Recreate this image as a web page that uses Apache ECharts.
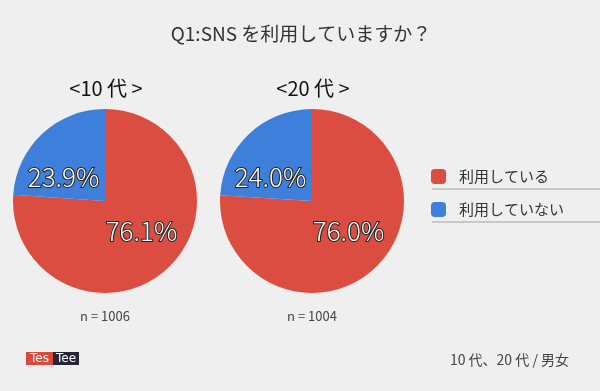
<!DOCTYPE html>
<html><head><meta charset="utf-8">
<script src="https://cdn.jsdelivr.net/npm/echarts@6/dist/echarts.min.js"></script>
<style>html,body{margin:0;padding:0;background:#efefef;}#c{width:600px;height:391px;}</style>
</head><body><div id="c"></div>
<script>
const chartTitle = 'Q1:SNS を利用していますか？';
const categories = ['利用している', '利用していない'];
const groups = ['<10 代 >', '<20 代 >'];
const values10 = [76.1, 23.9];
const values20 = [76.0, 24.0];
const sampleSizes = ['n = 1006', 'n = 1004'];
const footerNote = '10 代、20 代 / 男女';
const colors = ['#db4d40', '#3f7fdc'];

const FONT = '"Noto Sans CJK JP", "Noto Sans", sans-serif';
const centers = [[105, 201], [312, 201]];
const allValues = [values10, values20];

const chart = echarts.init(document.getElementById('c'));
const series = allValues.map((vals, i) => ({
  type: 'pie',
  center: centers[i],
  radius: [0, 92],
  startAngle: 90,
  clockwise: true,
  silent: true,
  animation: false,
  labelLine: {show: false},
  label: {
    show: true,
    position: 'inside',
    formatter: p => p.value.toFixed(1) + '%',
    color: '#fff',
    fontSize: 26,
    fontFamily: FONT,
    fontWeight: 300,
    textBorderColor: '#222',
    textBorderWidth: 2
  },
  data: categories.map((c, j) => ({
    name: c,
    value: vals[j],
    itemStyle: {color: colors[j]},
    label: j === 1 ? {offset: [-8, 12]} : {offset: [3, -6]}
  }))
}));

const titles = [
  {text: chartTitle, left: 296, top: 19, textAlign: 'center',
   textStyle: {fontSize: 19, fontWeight: 'normal', color: '#333', fontFamily: FONT}},
].concat(groups.map((g, i) => ({
  text: g, left: centers[i][0] - 4, top: 73, textAlign: 'center',
  textStyle: {fontSize: 20, fontWeight: 'normal', color: '#111', fontFamily: FONT}
}))).concat(sampleSizes.map((s, i) => ({
  text: s, left: centers[i][0] - 5, top: 305, textAlign: 'center',
  textStyle: {fontSize: 13, fontWeight: 'normal', color: '#444', fontFamily: FONT}
}))).concat([{
  text: footerNote, right: 26, top: 348,
  textStyle: {fontSize: 14, fontWeight: 'normal', color: '#444', fontFamily: FONT}
}]);

chart.setOption({
  backgroundColor: '#efefef',
  title: titles,
  legend: {
    orient: 'vertical',
    left: 431, top: 169,
    padding: 0,
    itemWidth: 15, itemHeight: 15,
    itemGap: 18,
    icon: 'roundRect',
    selectedMode: false,
    textStyle: {fontSize: 15, color: '#333', fontFamily: FONT, padding: [0, 0, 0, 8]},
    data: categories
  },
  graphic: [
    {type: 'line', shape: {x1: 432, y1: 189, x2: 600, y2: 189}, style: {stroke: '#c8c8c8', lineWidth: 2}},
    {type: 'line', shape: {x1: 432, y1: 222, x2: 600, y2: 222}, style: {stroke: '#c8c8c8', lineWidth: 2}},
    {type: 'rect', shape: {x: 26, y: 352, width: 27, height: 13}, style: {fill: '#d94a3d'}},
    {type: 'rect', shape: {x: 53, y: 352, width: 26, height: 13}, style: {fill: '#26263a'}},
    {type: 'text', style: {text: 'Tes', x: 39.5, y: 358.5, align: 'center', verticalAlign: 'middle', fill: '#fff', font: '12px "DejaVu Sans", sans-serif'}},
    {type: 'text', style: {text: 'Tee', x: 66, y: 358.5, align: 'center', verticalAlign: 'middle', fill: '#fff', font: '12px "DejaVu Sans", sans-serif'}}
  ],
  series: series
});
</script></body></html>
